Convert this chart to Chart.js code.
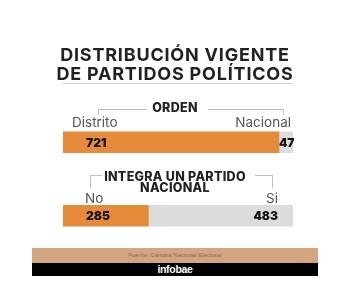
<!DOCTYPE html>
<html>
<head>
<meta charset="utf-8">
<script src="https://cdn.jsdelivr.net/npm/chart.js@4"></script>
<style>
  html,body{margin:0;padding:0;background:#fff;width:350px;height:304px;overflow:hidden;}
  #wrap{position:relative;width:350px;height:304px;}
  canvas{position:absolute;left:0;top:0;}
  .t{position:absolute;white-space:nowrap;font-family:Inter,"Open Sans",sans-serif;}
  .title{left:0;width:350px;text-align:center;font-weight:700;font-size:18px;color:#222;line-height:19px;letter-spacing:0.8px;}
  .sec{left:0;width:350px;text-align:center;font-weight:800;font-size:12.5px;color:#222;line-height:12px;letter-spacing:0.3px;}
  .lab{font-size:13.5px;color:#555;font-weight:400;line-height:14px;}
  .ln{position:absolute;background:#bdbdbd;}
</style>
</head>
<body>
<div id="wrap">
  <canvas id="c" width="350" height="304"></canvas>
  <div class="t title" style="top:45px;">DISTRIBUCIÓN VIGENTE</div>
  <div class="t title" style="top:64px;">DE PARTIDOS POLÍTICOS</div>
  <div class="ln" style="left:63px;top:83px;width:230px;height:1px;background:#cfcfcf;"></div>

  <div class="t sec" style="top:102px;">ORDEN</div>
  <div class="ln" style="left:98px;top:109px;width:49px;height:1px;"></div>
  <div class="ln" style="left:208px;top:109px;width:75px;height:1px;"></div>
  <div class="ln" style="left:98px;top:109px;width:1px;height:6px;"></div>
  <div class="ln" style="left:283px;top:109px;width:1px;height:6px;"></div>
  <div class="t lab" id="l0" style="left:72px;top:115px;"></div>
  <div class="t lab" id="r0" style="right:59px;top:115px;"></div>

  <div class="t sec" style="top:171px;">INTEGRA UN PARTIDO</div>
  <div class="t sec" style="top:182px;">NACIONAL</div>
  <div class="ln" style="left:90px;top:175px;width:12px;height:1px;"></div>
  <div class="ln" style="left:255px;top:175px;width:17px;height:1px;"></div>
  <div class="ln" style="left:90px;top:175px;width:1px;height:13px;"></div>
  <div class="ln" style="left:272px;top:175px;width:1px;height:13px;"></div>
  <div class="t lab" id="l1" style="left:85px;top:191px;"></div>
  <div class="t lab" id="r1" style="right:72px;top:191px;"></div>

  <div style="position:absolute;left:32px;top:248px;width:286px;height:15px;background:#d4a581;"></div>
  <div class="t" style="left:32px;width:286px;top:252px;text-align:center;font-size:6px;color:#8c6b55;font-family:'Liberation Sans',sans-serif;">Fuente: Cámara Nacional Electoral</div>
  <div style="position:absolute;left:32px;top:263px;width:286px;height:13px;background:#000;"></div>
  <div class="t" style="left:32px;width:286px;top:263px;line-height:13px;text-align:center;font-size:10.5px;color:#fff;font-weight:700;font-family:'Liberation Sans',sans-serif;letter-spacing:-0.3px;">infobae</div>
</div>
<script>
const categories = ['Orden', 'Integra un partido nacional'];
const leftLabels = ['Distrito', 'No'];
const rightLabels = ['Nacional', 'Si'];
const leftValues = [721, 285];
const rightValues = [47, 483];
const totals = leftValues.map((v, i) => v + rightValues[i]);

leftLabels.forEach((t, i) => document.getElementById('l' + i).textContent = t);
rightLabels.forEach((t, i) => document.getElementById('r' + i).textContent = t);

const valuePlugin = {
  id: 'values',
  afterDatasetsDraw(chart) {
    const ctx = chart.ctx;
    ctx.save();
    ctx.fillStyle = '#111';
    ctx.font = '900 12px Inter, sans-serif';
    ctx.textBaseline = 'middle';
    chart.data.datasets.forEach((ds, di) => {
      chart.getDatasetMeta(di).data.forEach((bar, i) => {
        const v = ds.data[i];
        const y = bar.y + 1;
        const start = bar.base, end = bar.x;
        if (di === 0) {
          ctx.textAlign = 'left';
          ctx.fillText(String(v), start + 23, y);
        } else {
          const w = ctx.measureText(String(v)).width;
          if (end - start < w + 20) {
            ctx.textAlign = 'left';
            ctx.fillText(String(v), start, y);
          } else {
            ctx.textAlign = 'right';
            ctx.fillText(String(v), end - 15, y);
          }
        }
      });
    });
    ctx.restore();
  }
};

new Chart(document.getElementById('c'), {
  type: 'bar',
  data: {
    labels: categories,
    datasets: [
      { data: leftValues, backgroundColor: '#e58b3a', barThickness: 21, borderWidth: 0 },
      { data: rightValues, backgroundColor: '#dcdcdc', barThickness: 21, borderWidth: 0 }
    ]
  },
  options: {
    indexAxis: 'y',
    responsive: false,
    animation: false,
    layout: { padding: { left: 63, right: 57, top: 105.5, bottom: 51.5 } },
    scales: {
      x: { stacked: true, min: 0, max: Math.max(...totals), display: false },
      y: { stacked: true, display: false }
    },
    plugins: { legend: { display: false }, tooltip: { enabled: false } }
  },
  plugins: [valuePlugin]
});
</script>
</body>
</html>
